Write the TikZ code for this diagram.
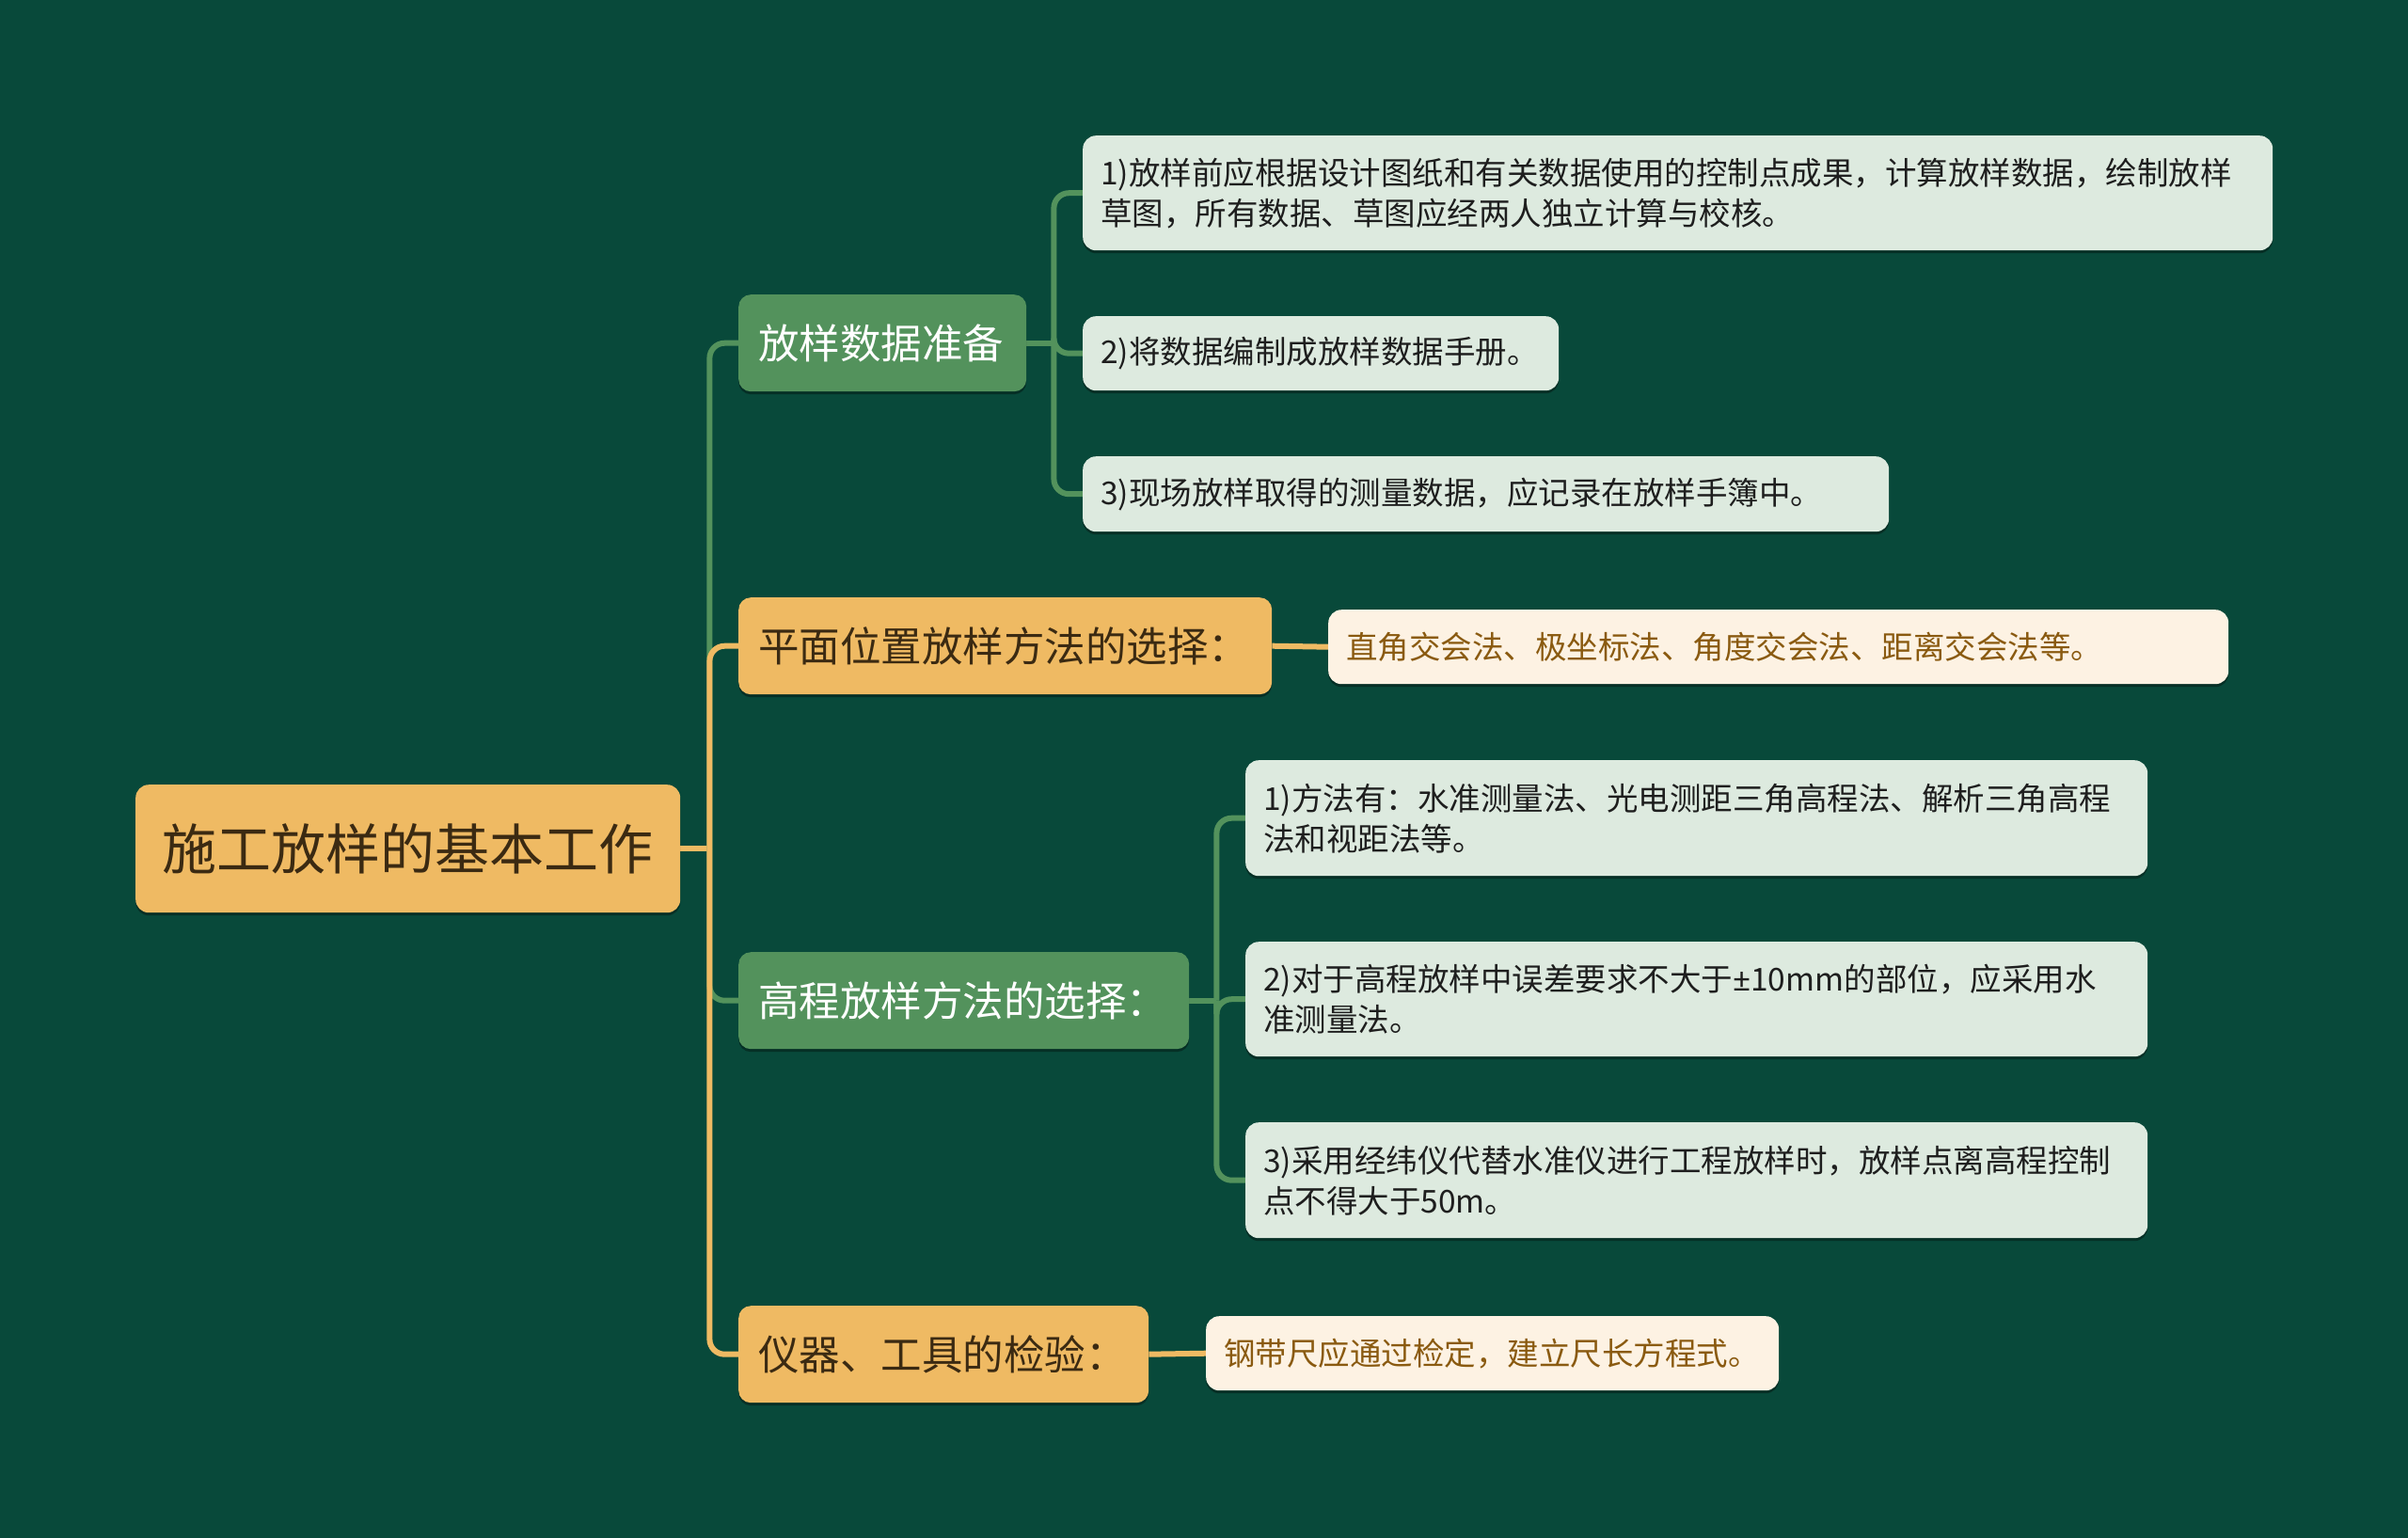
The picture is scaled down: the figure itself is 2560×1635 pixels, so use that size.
\documentclass[tikz,border=0pt]{standalone}
\usepackage{fontspec}
\setmainfont{Noto Sans CJK SC}
\newfontfamily\latinfont{Noto Sans}
\usetikzlibrary{shadows}
\definecolor{bgc}{HTML}{08493A}
\definecolor{gcol}{HTML}{53925C}
\definecolor{ocol}{HTML}{EFBA63}
\definecolor{lgleaf}{HTML}{DDEADF}
\definecolor{loleaf}{HTML}{FDF2E3}
\definecolor{brown}{HTML}{8A5A10}
\definecolor{darktxt}{HTML}{3B2A12}
\definecolor{leaftxt}{HTML}{1E1E1E}
\pgfdeclarelayer{back}
\pgfdeclarelayer{lines}
\pgfsetlayers{back,lines,main}
\tikzset{
  shad/.style={drop shadow={shadow xshift=0pt, shadow yshift=-3pt, opacity=0.35, fill=black}},
  rootbox/.style={shad, fill=ocol, text=darktxt, rounded corners=14pt, anchor=north west, inner sep=0pt,
    align=center, font=\fontsize{58}{66}\selectfont},
  gbranch/.style={shad, fill=gcol, text=white, rounded corners=13pt, anchor=north west, inner xsep=21pt, inner ysep=0pt,
    align=left, font=\fontsize{43.5}{50}\selectfont},
  obranch/.style={gbranch, fill=ocol, text=darktxt},
  gleaf/.style={shad, fill=lgleaf, text=leaftxt, rounded corners=14pt, anchor=north west, inner xsep=19pt, inner ysep=0pt,
    align=left, font=\fontsize{33.5}{43}\selectfont},
  oleaf/.style={gleaf, fill=loleaf, text=brown},
  gline/.style={draw=gcol, line width=6pt, rounded corners=16pt},
  oline/.style={draw=ocol, line width=6pt, rounded corners=16pt},
}
\begin{document}
\begin{tikzpicture}[x=1pt,y=-1pt]
\useasboundingbox (0,0) rectangle (2560,1635);
\begin{pgfonlayer}{back}
\fill[bgc] (0,0) rectangle (2560,1635);
\end{pgfonlayer}

% root
\node[rootbox, minimum width=579pt, minimum height=136pt] (root) at (144,834) {施工放样的基本工作};

% branches
\node[gbranch, text width=264pt, minimum height=103pt] (b1) at (785,313) {放样数据准备};
\node[obranch, text width=525pt, minimum height=103pt] (b2) at (785,635) {平面位置放样方法的选择：};
\node[gbranch, text width=437pt, minimum height=103pt] (b3) at (785,1012) {高程放样方法的选择：};
\node[obranch, text width=394pt, minimum height=103pt] (b4) at (785,1388) {仪器、工具的检验：};

% leaves
\node[gleaf, text width=1227pt, minimum height=122pt] (l1a) at (1151,144)
  {1)放样前应根据设计图纸和有关数据使用的控制点成果，计算放样数据，绘制放样\\草图，所有数据、草图应经两人独立计算与校核。};
\node[gleaf, text width=468pt, minimum height=79pt] (l1b) at (1151,336) {2)将数据编制成放样数据手册。};
\node[gleaf, text width=819pt, minimum height=80pt] (l1c) at (1151,485) {3)现场放样取得的测量数据，应记录在放样手簿中。};
\node[oleaf, text width=919pt, minimum height=79pt] (l2) at (1412,648) {直角交会法、极坐标法、角度交会法、距离交会法等。};
\node[gleaf, text width=921pt, minimum height=123pt] (l3a) at (1324,808)
  {1)方法有：水准测量法、光电测距三角高程法、解析三角高程\\法和视距法等。};
\node[gleaf, text width=921pt, minimum height=122pt] (l3b) at (1324,1001)
  {2)对于高程放样中误差要求不大于{\latinfont ±}10mm的部位，应采用水\\准测量法。};
\node[gleaf, text width=921pt, minimum height=123pt] (l3c) at (1324,1193)
  {3)采用经纬仪代替水准仪进行工程放样时，放样点离高程控制\\点不得大于50m。};
\node[oleaf, text width=571pt, minimum height=79pt] (l4) at (1282,1399) {钢带尺应通过检定，建立尺长方程式。};

% connectors
\begin{pgfonlayer}{lines}
\draw[oline] (root.east) -- ++(31,0) coordinate (t);
\draw[gline] (t) |- (b1.west);
\draw[gline] (t) |- (b3.west);
\draw[oline] (t) |- (b2.west);
\draw[oline] (t) |- (b4.west);

\draw[gline] (b1.east) -- ++(29,0) coordinate (s1);
\draw[gline] (s1) |- (l1a.west);
\draw[gline] (s1) |- (l1b.west);
\draw[gline] (s1) |- (l1c.west);

\draw[oline] (b2.east) -- (l2.west);

\draw[gline] (b3.east) -- ++(29,0) coordinate (s3);
\draw[gline] (s3) |- (l3a.west);
\draw[gline] (s3) |- (l3b.west);
\draw[gline] (s3) |- (l3c.west);

\draw[oline] (b4.east) -- (l4.west);
\end{pgfonlayer}
\end{tikzpicture}
\end{document}
